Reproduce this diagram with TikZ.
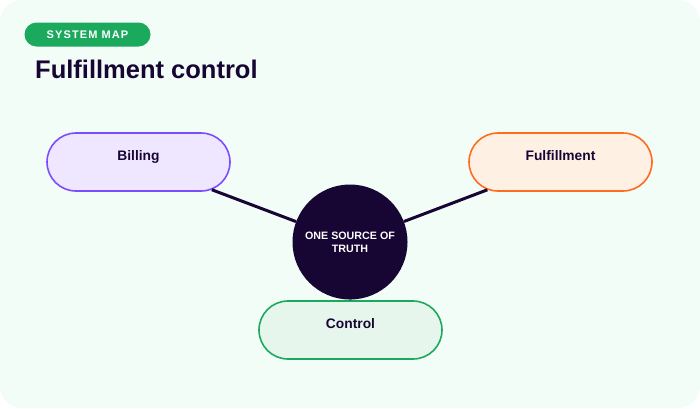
\documentclass[tikz,border=0pt]{standalone}
\usepackage{fontspec}
\setmainfont{Liberation Sans}
\usetikzlibrary{shapes.misc}
\definecolor{bgmint}{HTML}{F3FDF8}
\definecolor{ink}{HTML}{170533}
\definecolor{tagreen}{HTML}{1BA95E}
\definecolor{purpfill}{HTML}{EFE6FF}
\definecolor{purpline}{HTML}{7C4DFF}
\definecolor{orfill}{HTML}{FFF0E4}
\definecolor{orline}{HTML}{FF6B1F}
\definecolor{grfill}{HTML}{E7F6EC}
\definecolor{grline}{HTML}{1BA95E}
\tikzset{
  pill/.style={rounded rectangle, line width=1.6pt, minimum width=183pt, minimum height=58pt,
    inner sep=0pt, text height=9pt, text depth=12pt, text=ink,
    font=\fontsize{13.8pt}{16pt}\selectfont\bfseries},
  link/.style={draw=ink, line width=3pt},
}
\begin{document}
\begin{tikzpicture}[x=1pt,y=-1pt]
\useasboundingbox (0,0) rectangle (700,408);
\fill[bgmint, rounded corners=22pt] (0,0) rectangle (700,408);
\node[rounded rectangle, fill=tagreen, minimum width=126pt, minimum height=24pt, inner sep=0pt,
  text=white, font=\fontsize{11pt}{13pt}\selectfont\bfseries\addfontfeature{LetterSpace=10}]
  (tag) at (87.5,34.5) {SYSTEM MAP};
\node[anchor=base west, inner sep=0pt, text=ink, font=\fontsize{25.5pt}{30pt}\selectfont\bfseries]
  (title) at (35,78) {Fulfillment control};
\node[pill, fill=purpfill, draw=purpline] (billing) at (138.5,162) {Billing};
\node[pill, fill=orfill, draw=orline] (fulfil) at (560.5,162) {Fulfillment};
\node[pill, fill=grfill, draw=grline] (control) at (350.5,330) {Control};
\node[circle, fill=ink, minimum size=115pt, inner sep=0pt, text=white, align=center,
  font=\fontsize{10.7pt}{12.7pt}\selectfont\bfseries] (hub) at (350,242) {ONE SOURCE OF\\TRUTH};
\draw[link] (billing) -- (hub);
\draw[link] (fulfil) -- (hub);
\draw[link] (hub) -- (control);
\end{tikzpicture}
\end{document}
